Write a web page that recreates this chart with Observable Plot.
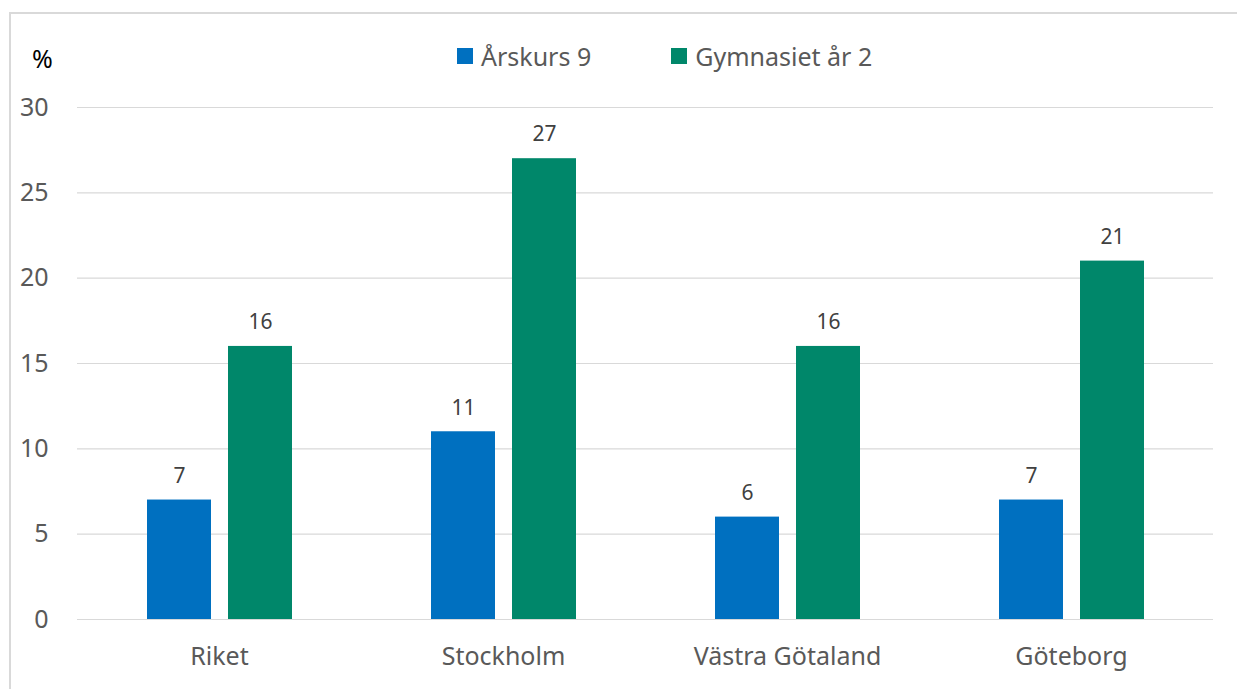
<!DOCTYPE html>
<html>
<head>
<meta charset="utf-8">
<script src="https://cdn.jsdelivr.net/npm/d3@7"></script>
<script src="https://cdn.jsdelivr.net/npm/@observablehq/plot@0.6"></script>
<style>
  html, body { margin: 0; padding: 0; background: #fff; }
  #wrap { position: relative; width: 1237px; height: 689px; overflow: hidden; font-family: "Noto Sans", sans-serif; }
  #frame { position: absolute; left: 9px; top: 12px; width: 1300px; height: 800px; border: 2px solid #d9d9d9; box-sizing: border-box; }
  #chart { position: absolute; left: 0; top: 0; }
  #unit { position: absolute; left: 32px; top: 41px; font-size: 25px; color: #000; }
  #legend { position: absolute; left: 457px; top: 39px; display: flex; align-items: center; font-size: 25px; color: #595959; white-space: nowrap; }
  .sw { display: inline-block; width: 16px; height: 16px; margin-right: 8px; }
  .item { display: flex; align-items: center; }
</style>
</head>
<body>
<div id="wrap">
  <div id="frame"></div>
  <div id="chart"></div>
  <div id="unit">%</div>
  <div id="legend"></div>
</div>
<script>
const categories = ["Riket", "Stockholm", "Västra Götaland", "Göteborg"];
const series = ["Årskurs 9", "Gymnasiet år 2"];
const colors = ["#0070c0", "#00876a"];
const arskurs9 = [7, 11, 6, 7];
const gymnasiet2 = [16, 27, 16, 21];
const yTicks = [0, 5, 10, 15, 20, 25, 30];

const data = [];
categories.forEach((c, i) => {
  data.push({category: c, series: series[0], value: arskurs9[i]});
  data.push({category: c, series: series[1], value: gymnasiet2[i]});
});

const chart = Plot.plot({
  width: 1237,
  height: 689,
  marginLeft: 76,
  marginRight: 24,
  marginTop: 107,
  marginBottom: 70,
  style: {fontFamily: "'Noto Sans', sans-serif", background: "transparent", overflow: "visible"},
  fx: {domain: categories, paddingInner: 0, paddingOuter: 0, label: null, axis: null},
  x: {domain: series, axis: null, paddingInner: 0.21, paddingOuter: 0.858},
  y: {domain: [0, 30], ticks: yTicks, label: null, axis: null},
  color: {domain: series, range: colors},
  marks: [
    Plot.ruleY(yTicks, {stroke: "#d9d9d9", strokeWidth: 1.2}),
    Plot.barY(data, {fx: "category", x: "series", y: "value", fill: "series"}),
    Plot.text(data, {fx: "category", x: "series", y: "value", text: d => String(d.value), dy: -24, fill: "#404040", fontSize: 21}),
    Plot.axisY({ticks: yTicks, tickSize: 0, tickPadding: 29, fontSize: 25, color: "#595959", label: null}),
    Plot.axisFx({anchor: "bottom", tickSize: 0, tickPadding: 28, fontSize: 25, color: "#595959", label: null})
  ]
});
document.getElementById("chart").appendChild(chart);

const legend = document.getElementById("legend");
series.forEach((s, i) => {
  const item = document.createElement("span");
  item.className = "item";
  item.style.marginRight = i === 0 ? "80px" : "0";
  const sw = document.createElement("span");
  sw.className = "sw";
  sw.style.background = colors[i];
  const t = document.createElement("span");
  t.textContent = s;
  item.appendChild(sw);
  item.appendChild(t);
  legend.appendChild(item);
});
</script>
</body>
</html>
